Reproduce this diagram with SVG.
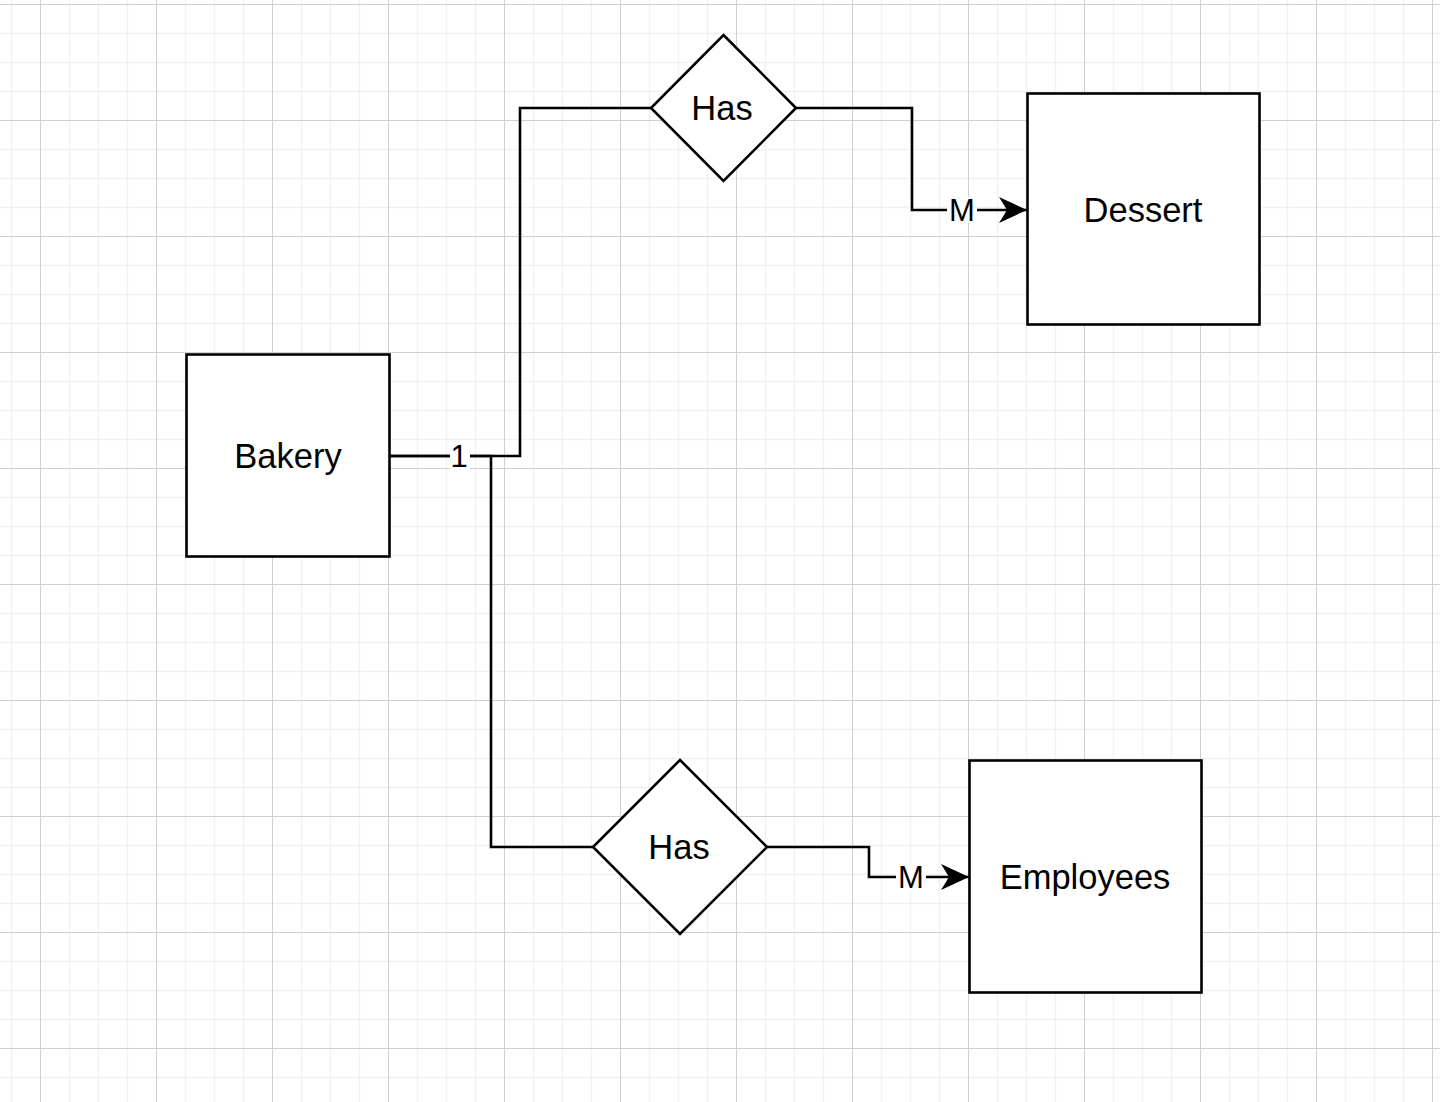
<svg xmlns="http://www.w3.org/2000/svg" width="1440" height="1102" viewBox="0 0 1440 1102">
<defs>
<pattern id="grid" x="40" y="4" width="116" height="116" patternUnits="userSpaceOnUse">
<path d="M29.5,0V116M58.5,0V116M87.5,0V116M0,29.5H116M0,58.5H116M0,87.5H116" stroke="#f1f1f1" stroke-width="1.5" fill="none"/>
<path d="M0.5,0V116M0,0.5H116" stroke="#d0d0d0" stroke-width="1" fill="none"/>
</pattern>
<marker id="arrow" viewBox="0 0 28 28" refX="28" refY="14" markerWidth="28" markerHeight="28" markerUnits="userSpaceOnUse" orient="auto">
<path d="M28,14 L0,1 L8,14 L0,27 Z" fill="#000"/>
</marker>
<style>
.shape{fill:#fff;stroke:#000;stroke-width:2.6}
.edge{fill:none;stroke:#000;stroke-width:2.6}
.t{font-family:"Liberation Sans",Arial,sans-serif;font-size:34.5px;fill:#000;text-anchor:middle}
.lbl{font-family:"Liberation Sans",Arial,sans-serif;font-size:31px;fill:#000;text-anchor:middle}
.lblbg{fill:#fff}
</style>
</defs>
<rect width="1440" height="1102" fill="#fff"/>
<rect width="1440" height="1102" fill="url(#grid)"/>
<g id="connectors">
<path class="edge" d="M390,456 H520 V108 H651"/>
<path class="edge" d="M390,456 H491 V847 H593"/>
<path class="edge" d="M796,108 H912 V210 H1027" marker-end="url(#arrow)"/>
<path class="edge" d="M767,847 H869 V877 H969" marker-end="url(#arrow)"/>
<rect class="lblbg" x="450" y="443" width="20" height="26"/>
<text class="lbl" x="459" y="467">1</text>
<rect class="lblbg" x="947" y="197" width="30" height="26"/>
<text class="lbl" x="962" y="221">M</text>
<rect class="lblbg" x="896" y="864" width="30" height="26"/>
<text class="lbl" x="911" y="888">M</text>
</g>
<g id="bakery">
<rect class="shape" x="186.5" y="354.5" width="203" height="202"/>
<text class="t" x="288" y="468">Bakery</text>
</g>
<g id="dessert">
<rect class="shape" x="1027.5" y="93.5" width="232" height="231"/>
<text class="t" x="1143" y="222">Dessert</text>
</g>
<g id="employees">
<rect class="shape" x="969.5" y="760.5" width="232" height="232"/>
<text class="t" x="1085" y="889">Employees</text>
</g>
<g id="has-top">
<polygon class="shape" points="723.5,35 796,108 723.5,181 651,108"/>
<text class="t" x="722" y="120">Has</text>
</g>
<g id="has-bottom">
<polygon class="shape" points="680,760 767,847 680,934 593,847"/>
<text class="t" x="679" y="859">Has</text>
</g>
</svg>
